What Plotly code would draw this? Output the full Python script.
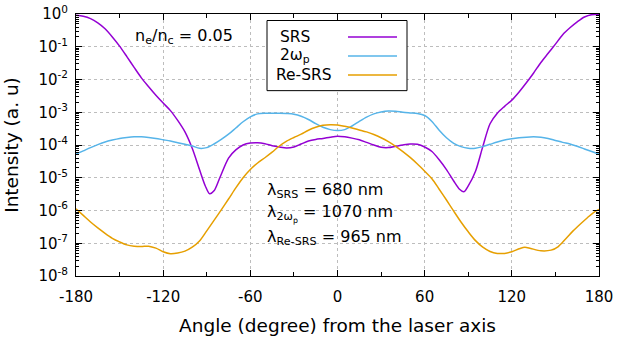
"""
plot.py
Angular distribution of SRS, 2wp and Re-SRS emission (gnuplot-like styling).
"""

import numpy as np
import plotly.graph_objects as go

PURPLE = "#9400D3"
SKY = "#56B4E9"
ORANGE = "#E69F00"
GRID = "#BDBDBD"
FONT = "DejaVu Sans"

# ---- data: angle (deg) and log10 of intensity ----
SRS_ANGLE = [-180, -175, -170, -165, -160, -155, -150, -145, -140, -135, -130, -125,
             -120, -115, -110, -105, -100, -95, -91, -88, -85, -81, -75, -70, -65,
             -60, -55, -50, -45, -40, -35, -30, -25, -20, -15, -10, -5, 0, 5, 10,
             15, 20, 25, 30, 35, 40, 45, 50, 55, 60, 65, 70, 75, 80, 84, 87, 90, 95,
             100, 105, 110, 115, 120, 125, 130, 135, 140, 145, 150, 155, 160, 165,
             170, 175, 180]
SRS_LOG = [-0.04, -0.07, -0.14, -0.27, -0.45, -0.70, -0.98, -1.30, -1.63, -1.95, -2.22,
           -2.48, -2.72, -2.95, -3.25, -3.60, -4.10, -4.75, -5.25, -5.49, -5.40, -5.00,
           -4.40, -4.15, -4.00, -3.94, -3.93, -3.96, -4.02, -4.06, -4.09, -4.06, -3.97,
           -3.88, -3.83, -3.80, -3.76, -3.73, -3.75, -3.79, -3.84, -3.92, -4.00, -4.07,
           -4.08, -4.04, -4.00, -3.97, -3.98, -4.06, -4.20, -4.45, -4.75, -5.10, -5.35,
           -5.43, -5.25, -4.80, -4.05, -3.35, -3.03, -2.82, -2.63, -2.38, -2.10, -1.80,
           -1.48, -1.20, -0.92, -0.63, -0.42, -0.24, -0.09, -0.02, -0.02]

WP_ANGLE = list(range(-180, 181, 5))
WP_LOG = [-4.28, -4.18, -4.08, -3.99, -3.91, -3.85, -3.80, -3.77, -3.75, -3.75, -3.77,
          -3.80, -3.84, -3.88, -3.93, -3.98, -4.03, -4.10, -4.08, -3.97, -3.83, -3.67,
          -3.48, -3.29, -3.14, -3.05, -3.03, -3.03, -3.03, -3.04, -3.06, -3.12, -3.22,
          -3.35, -3.46, -3.53, -3.56, -3.53, -3.42, -3.28, -3.15, -3.05, -2.99, -2.96,
          -2.97, -3.00, -3.02, -3.04, -3.10, -3.28, -3.55, -3.78, -3.95, -4.05, -4.10,
          -4.10, -4.05, -3.98, -3.91, -3.85, -3.81, -3.78, -3.76, -3.75, -3.76, -3.80,
          -3.86, -3.92, -3.97, -4.04, -4.12, -4.20, -4.28]

RESRS_ANGLE = [-180, -175, -170, -165, -160, -155, -150, -145, -140, -135, -130, -125,
               -120, -115, -110, -105, -100, -95, -90, -85, -80, -75, -70, -65, -60,
               -55, -50, -45, -40, -35, -30, -25, -20, -15, -10, -5, 0, 5, 10, 15, 20,
               25, 30, 35, 40, 45, 50, 55, 60, 65, 70, 75, 80, 85, 90, 95, 100, 105,
               110, 115, 120, 125, 129, 133, 140, 147, 152, 157, 162, 167, 172, 176, 180]
RESRS_LOG = [-5.95, -6.15, -6.35, -6.53, -6.70, -6.85, -6.96, -7.05, -7.09, -7.10, -7.09,
             -7.15, -7.26, -7.32, -7.30, -7.24, -7.12, -6.93, -6.62, -6.30, -5.98, -5.65,
             -5.31, -5.00, -4.75, -4.55, -4.39, -4.22, -4.03, -3.88, -3.77, -3.67, -3.55,
             -3.46, -3.40, -3.38, -3.39, -3.43, -3.48, -3.54, -3.60, -3.68, -3.78, -3.90,
             -4.04, -4.20, -4.38, -4.58, -4.80, -5.03, -5.35, -5.68, -6.02, -6.35, -6.65,
             -6.92, -7.12, -7.25, -7.31, -7.31, -7.26, -7.17, -7.12, -7.16, -7.23, -7.21,
             -7.10, -6.87, -6.63, -6.42, -6.22, -6.07, -5.97]

X_TICKS = [-180, -120, -60, 0, 60, 120, 180]
Y_EXP = list(range(-8, 1))

SERIES = [
    ("SRS", SRS_ANGLE, SRS_LOG, PURPLE),
    ("2ω<sub>p</sub>", WP_ANGLE, WP_LOG, SKY),
    ("Re-SRS", RESRS_ANGLE, RESRS_LOG, ORANGE),
]

fig = go.Figure()
for name, ang, lg, col in SERIES:
    fig.add_trace(go.Scatter(
        x=ang, y=np.power(10.0, lg), mode="lines", name=name,
        line=dict(color=col, width=1.5, shape="spline", smoothing=0.8),
        showlegend=False,
    ))

minor_y = [k * 10.0 ** e for e in Y_EXP[:-1] for k in range(2, 10)]

axis_common = dict(
    showline=True, linecolor="black", linewidth=1, mirror="ticks",
    ticks="inside", ticklen=6, tickcolor="black", tickwidth=1,
    showgrid=True, gridcolor=GRID, griddash="dot", gridwidth=1,
    zeroline=False, automargin=False, ticklabeloverflow="allow",
    tickfont=dict(family=FONT, size=15, color="black"),
)

fig.update_xaxes(
    **axis_common,
    range=[-180, 180],
    tickmode="array", tickvals=X_TICKS, ticktext=[str(v) for v in X_TICKS],
    ticklabelstandoff=7,
    minor=dict(tickmode="array", tickvals=[-150, -90, -30, 30, 90, 150],
               ticks="inside", ticklen=4, tickcolor="black", showgrid=False),
    title=dict(text="Angle (degree) from the laser axis",
               font=dict(family=FONT, size=18.5, color="black"), standoff=14),
)
fig.update_yaxes(
    **axis_common,
    type="log", range=[-8, 0],
    tickmode="array", tickvals=[10.0 ** e for e in Y_EXP],
    ticktext=["10<sup>%d</sup>" % e for e in Y_EXP],
    ticklabelstandoff=4,
    minor=dict(tickmode="array", tickvals=minor_y,
               ticks="inside", ticklen=3, tickcolor="black", showgrid=False),
    title=dict(text="Intensity (a. u)",
               font=dict(family=FONT, size=18.5, color="black"), standoff=14),
)

# ---- legend box drawn by hand (text left, sample line right, as in gnuplot) ----
# helpers convert reference-pixel positions into paper fractions of the plot area
def px(x):
    return (x - 76) / 523.0


def py(y):
    return (276 - y) / 261.5


fig.add_shape(type="rect", xref="paper", yref="paper",
              x0=px(267), x1=px(407), y0=py(91), y1=py(21),
              line=dict(color="black", width=1), fillcolor="white", layer="above")
legend_x = [278, 278, 274]
for i, (name, _, _, col) in enumerate(SERIES):
    yy = 37.5 + 19 * i
    fig.add_shape(type="line", xref="paper", yref="paper",
                  x0=px(348), x1=px(397), y0=py(yy), y1=py(yy),
                  line=dict(color=col, width=1.5), layer="above")
    fig.add_annotation(xref="paper", yref="paper", x=px(legend_x[i]), y=py(yy),
                       xanchor="left", yanchor="middle", showarrow=False,
                       text=name, font=dict(family=FONT, size=15.5, color="black"))

notes = [
    (133, 37, "n<sub>e</sub>/n<sub>c</sub> = 0.05"),
    (265, 191, "λ<sub>SRS</sub> = 680 nm"),
    (265, 214, "λ<sub>2ω<sub>p</sub></sub> = 1070 nm"),
    (265, 238, "λ<sub>Re-SRS</sub> = 965 nm"),
]
for x, y, t in notes:
    fig.add_annotation(xref="paper", yref="paper", x=px(x), y=py(y),
                       xanchor="left", yanchor="middle", showarrow=False,
                       text=t, font=dict(family=FONT, size=16, color="black"))

fig.update_layout(
    width=626, height=338,
    margin=dict(l=76, r=27, t=14, b=62),
    paper_bgcolor="white", plot_bgcolor="white",
    font=dict(family=FONT, size=15, color="black"),
    showlegend=False,
)

# drop the browser's default body margin so the figure fills the window exactly
fig.write_html("out.html", config={"displayModeBar": False},
               post_script="document.body.style.margin = '0';")
